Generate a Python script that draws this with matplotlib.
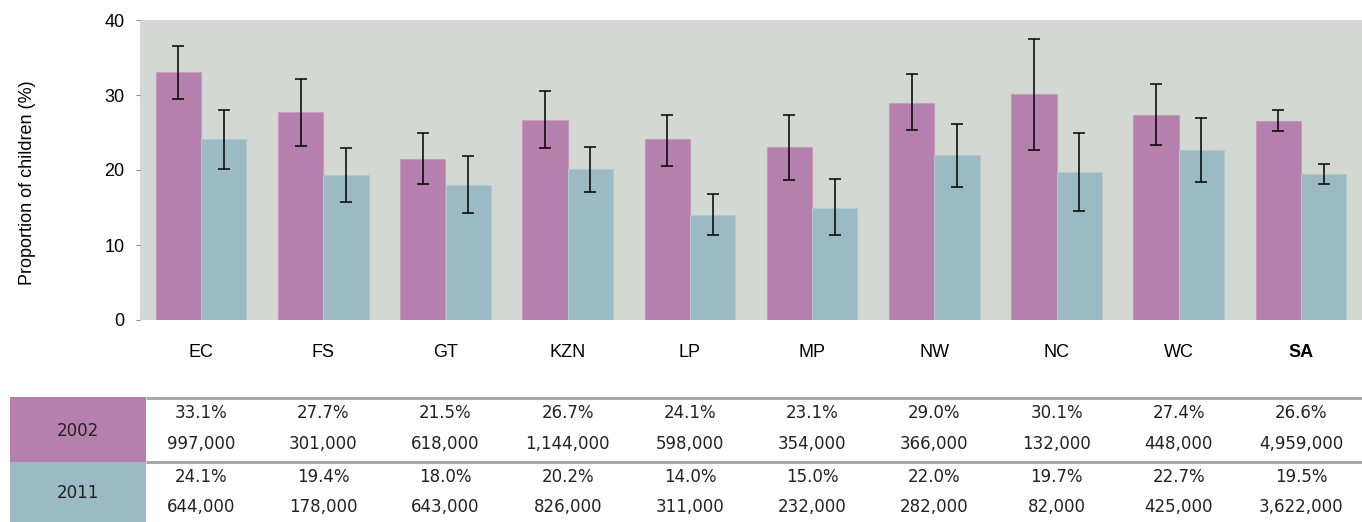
import matplotlib
matplotlib.use("Agg")
import matplotlib.pyplot as plt
from matplotlib.patches import Rectangle
import numpy as np

# Provinces and the national total (last)
regions = ["EC", "FS", "GT", "KZN", "LP", "MP", "NW", "NC", "WC", "SA"]

# Proportion of children (%) per year
pct_2002 = [33.1, 27.7, 21.5, 26.7, 24.1, 23.1, 29.0, 30.1, 27.4, 26.6]
pct_2011 = [24.1, 19.4, 18.0, 20.2, 14.0, 15.0, 22.0, 19.7, 22.7, 19.5]

# 95% confidence limits
lo_2002 = [29.5, 23.2, 18.1, 22.9, 20.6, 18.7, 25.3, 22.7, 23.4, 25.2]
hi_2002 = [36.5, 32.2, 24.9, 30.5, 27.4, 27.4, 32.8, 37.5, 31.5, 28.0]
lo_2011 = [20.2, 15.8, 14.3, 17.1, 11.3, 11.3, 17.8, 14.5, 18.4, 18.1]
hi_2011 = [28.0, 22.9, 21.9, 23.1, 16.8, 18.8, 26.2, 24.9, 26.9, 20.8]

# Number of children per year
n_2002 = [997000, 301000, 618000, 1144000, 598000, 354000, 366000, 132000, 448000, 4959000]
n_2011 = [644000, 178000, 643000, 826000, 311000, 232000, 282000, 82000, 425000, 3622000]

years = ["2002", "2011"]
yticks = [0, 10, 20, 30, 40]

PINK = "#B57FAE"
BLUE = "#9BBAC3"
BG = "#D3D8D2"
RULE = "#9FA69F"

W, H = 1362, 522
fig = plt.figure(figsize=(W / 100, H / 100), dpi=100)
plt.rcParams["font.family"] = ["Liberation Sans", "DejaVu Sans"]

ax_left, ax_right = 140 / W, 1.0
ax = fig.add_axes([ax_left, (H - 320) / H, ax_right - ax_left, 300 / H])
ax.set_facecolor(BG)

x = np.arange(len(regions))
bw = 0.37
p02 = np.array(pct_2002)
p11 = np.array(pct_2011)
err02 = [p02 - np.array(lo_2002), np.array(hi_2002) - p02]
err11 = [p11 - np.array(lo_2011), np.array(hi_2011) - p11]

ax.bar(x - bw / 2, p02, bw, color=PINK, edgecolor="#C49BBE", linewidth=0.8, zorder=2)
ax.bar(x + bw / 2, p11, bw, color=BLUE, edgecolor="#B2C8CE", linewidth=0.8, zorder=2)
ax.errorbar(x - bw / 2, p02, yerr=err02, fmt="none", ecolor="black",
            elinewidth=1.1, capsize=4, capthick=1.1, zorder=3)
ax.errorbar(x + bw / 2, p11, yerr=err11, fmt="none", ecolor="black",
            elinewidth=1.1, capsize=4, capthick=1.1, zorder=3)

ax.set_xlim(-0.5, 9.5)
ax.set_ylim(0, 40)
ax.set_yticks(yticks)
ax.tick_params(axis="y", length=3, width=0.8, color="#888888", labelsize=13, pad=8)
ax.set_xticks(x)
ax.set_xticklabels(regions)
ax.tick_params(axis="x", length=0, labelsize=13, pad=17)
ax.get_xticklabels()[-1].set_fontweight("bold")
for s in ax.spines.values():
    s.set_visible(False)
fig.text(27 / W, (H - 183) / H, "Proportion of children (%)", rotation=90,
         ha="center", va="center", fontsize=13)

# Summary table below the chart, columns aligned with the bar groups
tab = fig.add_axes([ax_left, 0, ax_right - ax_left, (H - 396) / H])
tab.set_xlim(-0.5, 9.5)
tab.set_ylim(522, 396)
tab.axis("off")
px = 1 / 122.2  # one pixel in table x units
lab_x0 = -0.5 - 130 * px
lab_x1 = -0.5 + 6 * px
row_spans = [(397, 462), (462, 522)]
colors = [PINK, BLUE]
for (y0, y1), c, yr in zip(row_spans, colors, years):
    tab.add_patch(Rectangle((lab_x0, y0), lab_x1 - lab_x0, y1 - y0,
                            facecolor=c, edgecolor="none", clip_on=False))
    tab.text((lab_x0 + lab_x1) / 2, (y0 + y1) / 2 + 1, yr, ha="center", va="center",
             fontsize=12, family="DejaVu Sans", color="#222222", clip_on=False)
for yl in (397.5, 462):
    tab.plot([lab_x1, 9.5], [yl, yl], color=RULE, lw=2, clip_on=False,
             solid_capstyle="butt")

for i in range(len(regions)):
    tab.text(x[i], 413, f"{pct_2002[i]:.1f}%", ha="center", va="center",
             fontsize=12, family="DejaVu Sans", color="#222222")
    tab.text(x[i], 444, f"{n_2002[i]:,}", ha="center", va="center",
             fontsize=12, family="DejaVu Sans", color="#222222")
    tab.text(x[i], 477, f"{pct_2011[i]:.1f}%", ha="center", va="center",
             fontsize=12, family="DejaVu Sans", color="#222222")
    tab.text(x[i], 507, f"{n_2011[i]:,}", ha="center", va="center",
             fontsize=12, family="DejaVu Sans", color="#222222")

fig.savefig("out.png", dpi=100)
